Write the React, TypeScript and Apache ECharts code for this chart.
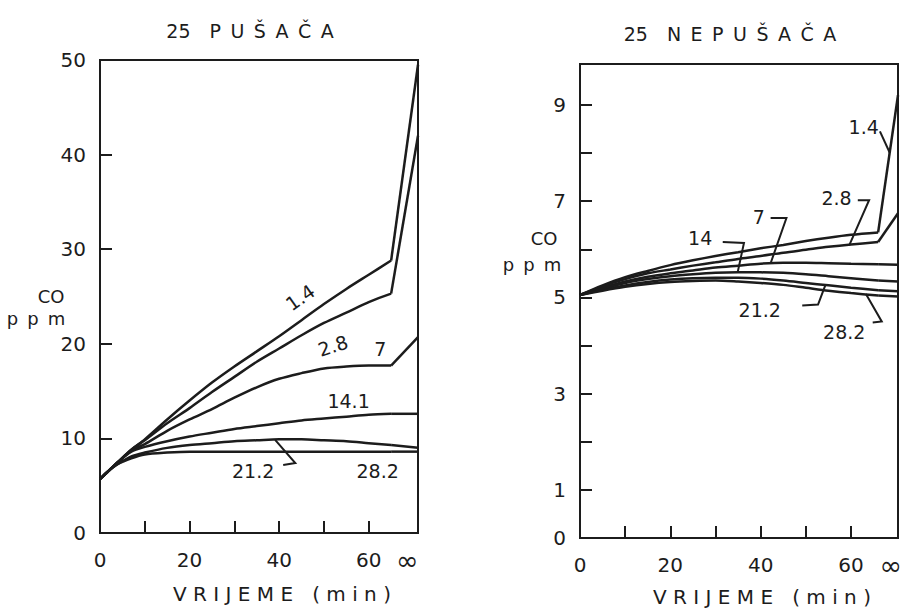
import React, { useEffect, useRef } from "react";
import * as echarts from "echarts";

// ---------- LEFT PANEL: 25 PUŠAČA ----------
const LEFT_TITLE = "25\u2002\u2002P\u2002U\u2002Š\u2002A\u2002Č\u2002A";
const LEFT_TIMES = [0, 2, 4, 7, 10, 15, 20, 25, 30, 35, 40, 45, 50, 55, 60, 65];
const LEFT_INF_T = 71;
const L_1_4 = [5.7, 6.6, 7.5, 8.8, 9.9, 12.0, 14.0, 15.9, 17.6, 19.2, 20.8, 22.5, 24.2, 25.8, 27.3, 28.8];
const L_2_8 = [5.7, 6.6, 7.5, 8.8, 9.8, 11.6, 13.2, 14.9, 16.5, 18.1, 19.5, 20.9, 22.2, 23.3, 24.4, 25.3];
const L_7 = [5.7, 6.6, 7.5, 8.7, 9.4, 10.8, 12.0, 13.1, 14.3, 15.4, 16.3, 16.9, 17.4, 17.6, 17.7, 17.7];
const L_14_1 = [5.7, 6.6, 7.5, 8.6, 9.1, 9.7, 10.2, 10.6, 11.0, 11.3, 11.6, 11.9, 12.1, 12.3, 12.5, 12.6];
const L_21_2 = [5.7, 6.6, 7.3, 8.1, 8.5, 9.0, 9.3, 9.5, 9.7, 9.8, 9.9, 9.9, 9.8, 9.7, 9.5, 9.3];
const L_28_2 = [5.7, 6.6, 7.3, 7.9, 8.3, 8.5, 8.6, 8.6, 8.6, 8.6, 8.6, 8.6, 8.6, 8.6, 8.6, 8.6];
const L_INF = [49.5, 42.0, 20.7, 12.6, 9.0, 8.6];
const LEFT_Y_LABELS = [0, 10, 20, 30, 40, 50];
const LEFT_Y_TICKS = [10, 20, 30, 40];
const LEFT_X_LABELS = [0, 20, 40, 60, 68.6];
const LEFT_X_TICKS = [10, 20, 30, 40, 50, 60];
const LEFT_NOTES = ["1.4", "2.8", "7", "14.1", "21.2", "28.2"];
const LEFT_NOTE_POS = [[44.7, 24.9], [52.0, 19.8], [62.6, 19.4], [55.5, 14.0], [34.2, 6.6], [62.0, 6.6]];
const LEFT_NOTE_ROT = [35, 18, 0, 0, 0, 0];
const LEFT_LEADERS = [[[40.9, 7.2], [43.6, 7.4], [39.1, 9.85]]];

// ---------- RIGHT PANEL: 25 NEPUŠAČA ----------
const RIGHT_TITLE = "25\u2002\u2002N\u2002E\u2002P\u2002U\u2002Š\u2002A\u2002Č\u2002A";
const RIGHT_TIMES = [0, 5, 10, 15, 20, 25, 30, 35, 40, 45, 50, 55, 60, 66];
const RIGHT_INF_T = 70.4;
const R_1_4 = [5.05, 5.25, 5.42, 5.55, 5.67, 5.77, 5.86, 5.94, 6.02, 6.09, 6.17, 6.24, 6.3, 6.35];
const R_2_8 = [5.05, 5.23, 5.38, 5.5, 5.58, 5.66, 5.73, 5.8, 5.86, 5.93, 5.99, 6.05, 6.1, 6.15];
const R_7 = [5.05, 5.2, 5.33, 5.43, 5.5, 5.56, 5.62, 5.66, 5.7, 5.72, 5.72, 5.71, 5.7, 5.69];
const R_14 = [5.05, 5.18, 5.3, 5.38, 5.44, 5.48, 5.51, 5.52, 5.52, 5.51, 5.48, 5.44, 5.4, 5.35];
const R_21_2 = [5.05, 5.16, 5.25, 5.32, 5.37, 5.4, 5.41, 5.41, 5.39, 5.35, 5.3, 5.25, 5.2, 5.15];
const R_28_2 = [5.05, 5.14, 5.22, 5.28, 5.32, 5.34, 5.35, 5.33, 5.3, 5.26, 5.2, 5.14, 5.09, 5.04];
const R_INF = [9.2, 6.75, 5.68, 5.33, 5.13, 5.02];
const RIGHT_Y_LABELS = [0, 1, 3, 5, 7, 9];
const RIGHT_Y_TICKS = [1, 2, 3, 4, 5, 6, 7, 8, 9];
const RIGHT_X_LABELS = [0, 20, 40, 60, 68.8];
const RIGHT_X_TICKS = [10, 20, 30, 40, 50, 60];
const RIGHT_NOTES = ["1.4", "2.8", "7", "14", "21.2", "28.2"];
const RIGHT_NOTE_POS = [[62.8, 8.54], [56.8, 7.06], [39.6, 6.67], [26.6, 6.23], [39.8, 4.73], [58.5, 4.29]];
const RIGHT_LEADERS = [
  [[66.4, 8.45], [68.6, 8.0]],
  [[61.5, 7.02], [64.0, 7.02], [59.6, 6.08]],
  [[42.2, 6.65], [45.7, 6.65], [42.2, 5.71]],
  [[31.6, 6.15], [36.3, 6.13], [34.9, 5.52]],
  [[49.2, 4.83], [52.7, 4.85], [54.3, 5.25]],
  [[64.8, 4.48], [66.8, 4.5], [63.3, 5.07]],
];

const X_NAME = "V R I J E M E   ( m i n )";
const PPM = "p\u2002p\u2002m";
const INK = "#1c1c1c";
const FONT = "DejaVu Sans";

function buildSeries(idx: number, times: number[], curves: number[][], infT: number, infVals: number[]) {
  const out: any[] = [];
  curves.forEach((vals, k) => {
    out.push({
      type: "line",
      xAxisIndex: idx,
      yAxisIndex: idx,
      data: times.map((t, i) => [t, vals[i]]),
      smooth: 0.3,
      symbol: "none",
      silent: true,
      lineStyle: { color: INK, width: 2.5 },
    });
    const lastT = times[times.length - 1];
    out.push({
      type: "line",
      xAxisIndex: idx,
      yAxisIndex: idx,
      data: [[lastT, vals[vals.length - 1]], [infT, infVals[k]]],
      smooth: false,
      symbol: "none",
      silent: true,
      lineStyle: { color: INK, width: 2.5 },
    });
  });
  return out;
}

function xAxis(idx: number, max: number, labels: number[], ticks: number[]) {
  return {
    type: "value",
    gridIndex: idx,
    min: 0,
    max,
    splitLine: { show: false },
    axisLine: { show: true, lineStyle: { color: INK, width: 2 } },
    axisTick: { show: true, inside: true, length: 12, customValues: ticks, lineStyle: { color: INK, width: 2 } },
    axisLabel: {
      customValues: labels,
      margin: 17,
      color: INK,
      fontSize: 20,
      fontFamily: FONT,
      formatter: (v: number) => (v > 65 ? "{inf|∞}" : String(v)),
      rich: { inf: { fontSize: 27, lineHeight: 20, fontFamily: FONT, color: INK } },
    },
  };
}

function yAxis(idx: number, max: number, labels: number[], ticks: number[]) {
  return {
    type: "value",
    gridIndex: idx,
    min: 0,
    max,
    splitLine: { show: false },
    axisLine: { show: true, lineStyle: { color: INK, width: 2 } },
    axisTick: { show: true, inside: true, length: 12, customValues: ticks, lineStyle: { color: INK, width: 2 } },
    axisLabel: { customValues: labels, margin: 14, color: INK, fontSize: 20, fontFamily: FONT },
  };
}

function txt(x: number, y: number, text: string, size: number, rot = 0) {
  return {
    type: "text",
    x,
    y,
    rotation: (rot * Math.PI) / 180,
    silent: true,
    style: {
      text,
      fill: INK,
      fontSize: size,
      fontFamily: FONT,
      align: "center",
      verticalAlign: "middle",
      textAlign: "center",
      textVerticalAlign: "middle",
    },
  };
}

export default function App() {
  const ref = useRef<HTMLDivElement>(null);
  useEffect(() => {
    if (!ref.current) return;
    const chart = echarts.init(ref.current, undefined, { renderer: "svg" });
    const option: any = {
      animation: false,
      backgroundColor: "#ffffff",
      grid: [
        { left: 100, top: 60, width: 318, height: 473, show: true, borderColor: INK, borderWidth: 2, outerBoundsMode: "none" },
        { left: 580, top: 64, width: 318, height: 474, show: true, borderColor: INK, borderWidth: 2, outerBoundsMode: "none" },
      ],
      xAxis: [xAxis(0, LEFT_INF_T, LEFT_X_LABELS, LEFT_X_TICKS), xAxis(1, RIGHT_INF_T, RIGHT_X_LABELS, RIGHT_X_TICKS)],
      yAxis: [yAxis(0, 50, LEFT_Y_LABELS, LEFT_Y_TICKS), yAxis(1, 9.85, RIGHT_Y_LABELS, RIGHT_Y_TICKS)],
      series: [
        ...buildSeries(0, LEFT_TIMES, [L_1_4, L_2_8, L_7, L_14_1, L_21_2, L_28_2], LEFT_INF_T, L_INF),
        ...buildSeries(1, RIGHT_TIMES, [R_1_4, R_2_8, R_7, R_14, R_21_2, R_28_2], RIGHT_INF_T, R_INF),
      ],
    };
    chart.setOption(option);

    const graphics: any[] = [];
    graphics.push(txt(250, 31, LEFT_TITLE, 19));
    graphics.push(txt(730, 34, RIGHT_TITLE, 19));
    graphics.push(txt(282, 594, X_NAME, 20));
    graphics.push(txt(762, 597, X_NAME, 20));
    graphics.push(txt(51, 296, "CO", 18));
    graphics.push(txt(36, 318, PPM, 18));
    graphics.push(txt(544, 238, "CO", 18));
    graphics.push(txt(532, 264, PPM, 18));

    LEFT_NOTES.forEach((n, i) => {
      const p = chart.convertToPixel({ gridIndex: 0 } as any, LEFT_NOTE_POS[i]) as number[];
      graphics.push(txt(p[0], p[1], n, 19, LEFT_NOTE_ROT[i]));
    });
    RIGHT_NOTES.forEach((n, i) => {
      const p = chart.convertToPixel({ gridIndex: 1 } as any, RIGHT_NOTE_POS[i]) as number[];
      graphics.push(txt(p[0], p[1], n, 19));
    });
    const leader = (gi: number, pts: number[][]) => ({
      type: "polyline",
      silent: true,
      shape: { points: pts.map((q) => chart.convertToPixel({ gridIndex: gi } as any, q) as number[]) },
      style: { stroke: INK, lineWidth: 2, fill: null },
    });
    LEFT_LEADERS.forEach((l) => graphics.push(leader(0, l)));
    RIGHT_LEADERS.forEach((l) => graphics.push(leader(1, l)));

    chart.setOption({ graphic: graphics });
    return () => chart.dispose();
  }, []);
  return <div ref={ref} style={{ position: "absolute", left: 0, top: 0, width: 903, height: 610 }} />;
}
